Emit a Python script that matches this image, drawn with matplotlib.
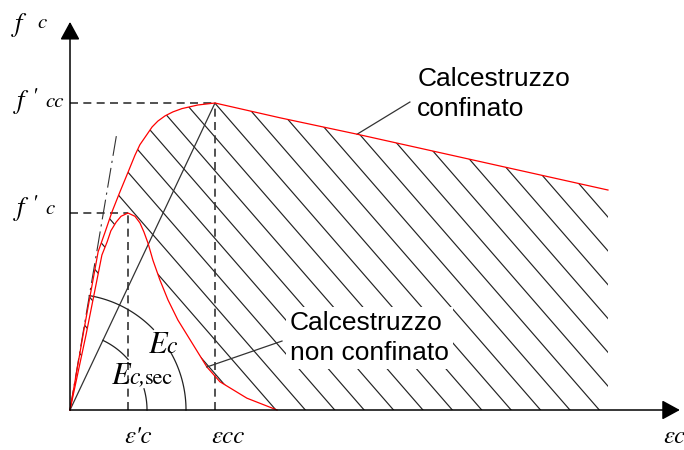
import numpy as np
import matplotlib.pyplot as plt
from matplotlib.patches import Polygon

# Legame costitutivo del calcestruzzo: deformazioni in per mille, tensioni in MPa
eps_confinato = [0.0, 0.48, 0.97, 1.21, 1.45, 1.72, 2.0, 2.24, 2.41, 2.66, 2.83, 3.03,
                 3.28, 3.55, 3.86, 4.41, 5.0, 7.24, 9.9, 18.55]
sig_confinato = [0.0, 12.2, 24.1, 27.1, 30.2, 33.2, 36.2, 38.8, 40.4, 42.0, 43.1, 44.0,
                 44.8, 45.4, 45.9, 46.45, 46.75, 44.5, 42.0, 33.5]

eps_non_confinato = [0.0, 0.55, 1.10, 1.28, 1.41, 1.59, 1.76, 2.0, 2.24, 2.41, 2.55,
                     2.69, 2.86, 3.10, 3.38, 3.72, 4.14, 4.72, 5.17, 6.10, 7.14]
sig_non_confinato = [0.0, 11.4, 23.6, 25.6, 27.3, 28.6, 29.5, 30.0, 29.5, 28.5, 27.1,
                     25.4, 22.8, 19.8, 16.75, 13.7, 10.7, 6.55, 4.3, 1.8, 0.0]

eps_c0, f_c0 = 2.0, 30.0      # picco non confinato
eps_cc, f_cc = 5.0, 46.75     # picco confinato
eps_tan, sig_tan = 1.62, 42.3  # retta del modulo tangente Ec

SERIF = 'STIXGeneral'
SANS = 'Liberation Sans'


def arco(ax, raggio_px, theta1, theta2, sx, sy):
    """Arco circolare (misurato in pixel) centrato nell'origine"""
    t = np.radians(np.linspace(theta1, theta2, 80))
    ax.plot(raggio_px * np.cos(t) / sx, raggio_px * np.sin(t) / sy,
            color='#222222', lw=0.9, zorder=3)


def tratteggio(ax, regione, sx, sy, passo_px=29.4, pendenza_px=1.15, e0=12.17):
    """Linee inclinate parallele, ritagliate sulla regione"""
    m = -pendenza_px * sx / sy
    passo = passo_px / sx
    for k in range(-20, 20):
        x0 = e0 + k * passo
        sig = np.array([-10.0, 70.0])
        eps = x0 + sig / m
        ln, = ax.plot(eps, sig, color='#222222', lw=0.85, zorder=1)
        ln.set_clip_path(regione)


def main():
    fig = plt.figure(figsize=(6.84, 4.5), dpi=100)
    ax = fig.add_axes([0, 0, 1, 1])
    ax.set_xlim(-2.414, 21.172)
    ax.set_ylim(-6.091, 62.437)
    ax.axis('off')

    # scala pixel per unita'
    p0 = ax.transData.transform((0, 0))
    sx = ax.transData.transform((1, 0))[0] - p0[0]
    sy = ax.transData.transform((0, 1))[1] - p0[1]

    # area tratteggiata fra le due curve
    contorno = list(zip(eps_confinato, sig_confinato))
    contorno += [(eps_confinato[-1], 0.0), (eps_non_confinato[-1], 0.0)]
    contorno += list(zip(eps_non_confinato[::-1], sig_non_confinato[::-1]))
    regione = Polygon(contorno, closed=True, facecolor='none', edgecolor='none')
    ax.add_patch(regione)
    tratteggio(ax, regione, sx, sy)

    # curve
    ax.plot(eps_confinato, sig_confinato, color='red', lw=0.9, zorder=4)
    ax.plot(eps_non_confinato, sig_non_confinato, color='red', lw=0.9, zorder=4)

    # linee di riferimento tratteggiate
    trat = dict(color='#333333', lw=1.2, dashes=(4.8, 3.2), zorder=2)
    ax.plot([0, eps_cc], [f_cc, f_cc], **trat)
    ax.plot([eps_cc, eps_cc], [0, f_cc], **trat)
    ax.plot([0, eps_c0], [f_c0, f_c0], **trat)
    ax.plot([eps_c0, eps_c0], [0, f_c0], **trat)

    # modulo secante e tangente
    ax.plot([0, eps_cc], [0, f_cc], color='#333333', lw=0.9, zorder=3)
    ax.plot([0, eps_tan], [0, sig_tan], color='#333333', lw=0.8,
            dashes=(18, 4.5, 2, 4.5), zorder=3)

    ang_tan = np.degrees(np.arctan2(sig_tan * sy, eps_tan * sx))
    ang_sec = np.degrees(np.arctan2(f_cc * sy, eps_cc * sx))
    arco(ax, 116, 44, ang_tan, sx, sy)
    arco(ax, 116, 0, 30, sx, sy)
    arco(ax, 77, 41, ang_sec, sx, sy)
    arco(ax, 77, 0, 16, sx, sy)

    # assi con frecce
    freccia = dict(arrowstyle='-|>,head_length=0.55,head_width=0.3', mutation_scale=20,
                   color='black', lw=1.1, shrinkA=0, shrinkB=0)
    ax.annotate('', xy=(21.03, 0), xytext=(0, 0), arrowprops=freccia, zorder=5)
    ax.annotate('', xy=(0, 59.1), xytext=(0, 0), arrowprops=freccia, zorder=5)

    # etichette asse verticale
    it = dict(family=SERIF, style='italic', color='black', va='center', ha='center')
    ax.text(-1.76, 58.7, 'f', fontsize=19, **it)
    ax.text(-0.98, 59.0, 'c', fontsize=15, **it)
    ax.text(-1.72, 46.9, 'f', fontsize=19, **it)
    ax.text(-1.27, 47.7, "'", fontsize=16, **it)
    ax.text(-0.52, 46.9, 'cc', fontsize=15, **it)
    ax.text(-1.72, 30.6, 'f', fontsize=19, **it)
    ax.text(-1.27, 31.4, "'", fontsize=16, **it)
    ax.text(-0.68, 30.6, 'c', fontsize=15, **it)

    # etichette asse orizzontale
    ax.text(1.88, -4.1, "\u03b5'c", fontsize=18, family=SERIF, style='italic',
            ha='left', va='center')
    ax.text(4.87, -4.1, '\u03b5cc', fontsize=18, family=SERIF, style='italic',
            ha='left', va='center')
    ax.text(20.45, -4.1, '\u03b5c', fontsize=18, family=SERIF, style='italic',
            ha='left', va='center')

    # etichette dei moduli
    ax.text(2.68, 8.7, 'E', fontsize=22, ha='left', va='baseline', family=SERIF, style='italic')
    ax.text(3.33, 8.7, 'c', fontsize=17, ha='left', va='baseline', family=SERIF, style='italic')
    ax.text(1.40, 4.0, 'E', fontsize=22, ha='left', va='baseline', family=SERIF, style='italic')
    ax.text(2.03, 4.0, 'c,', fontsize=17, ha='left', va='baseline', family=SERIF, style='italic')
    ax.text(2.57, 4.0, 'sec', fontsize=16, ha='left', va='baseline', family=SERIF)

    # didascalie con linee di richiamo
    ax.plot([eps_confinato[-2], 11.72], [sig_confinato[-2], 46.9], color='#333333', lw=0.9, zorder=3)
    ax.text(11.97, 48.1, 'Calcestruzzo\nconfinato', family=SANS, fontsize=19,
            ha='left', va='center', linespacing=1.3, zorder=6)
    ax.plot([eps_non_confinato[17], 7.31], [sig_non_confinato[17], 10.5], color='#333333', lw=0.9, zorder=5)
    ax.text(7.59, 11.0, 'Calcestruzzo\nnon confinato', family=SANS, fontsize=19,
            ha='left', va='center', linespacing=1.3, zorder=6,
            bbox=dict(facecolor='white', edgecolor='none', pad=3))

    fig.savefig('out.png', dpi=100)


if __name__ == '__main__':
    main()
